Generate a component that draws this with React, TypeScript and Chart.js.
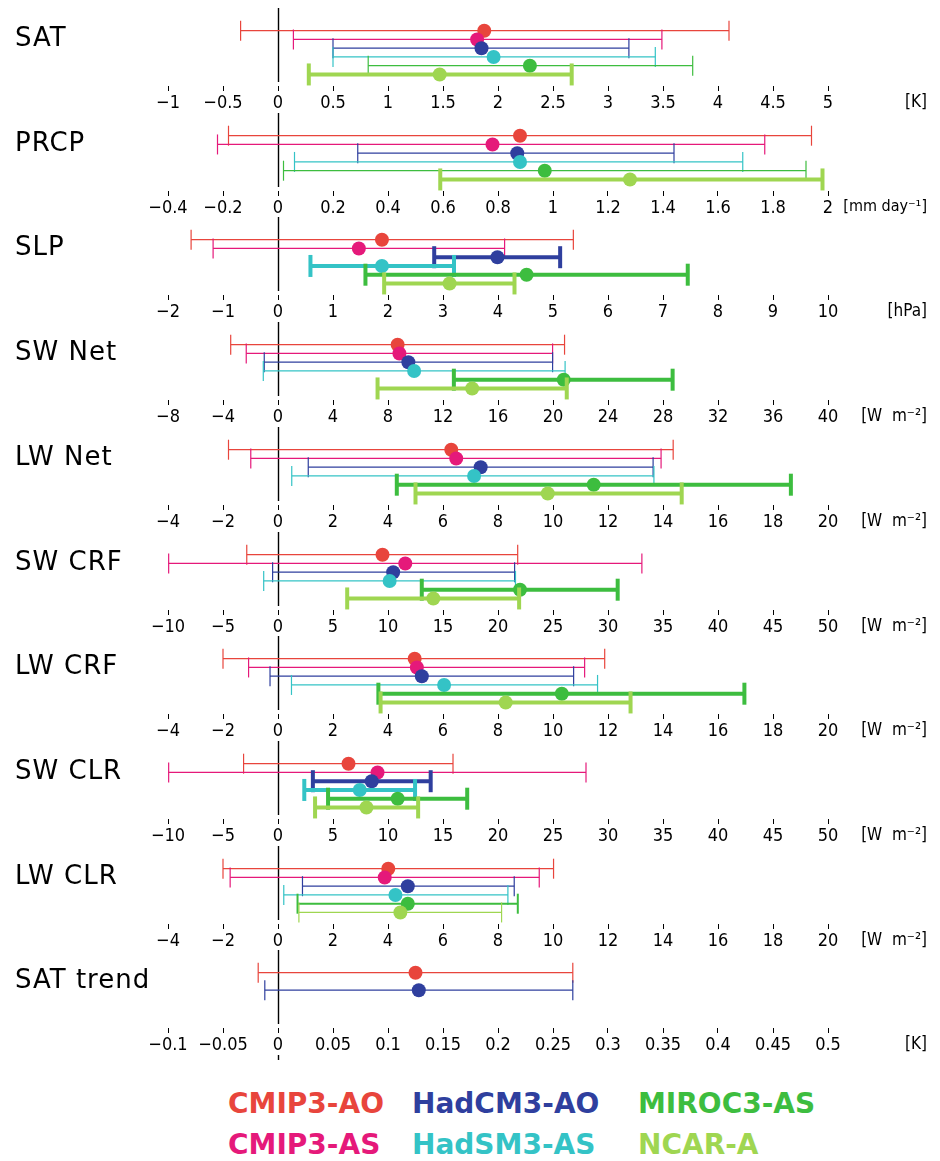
import React, { useEffect, useRef } from 'react';
import { Chart, registerables } from 'chart.js';

Chart.register(...registerables);

// ---------- data ----------
const SERIES = ['CMIP3-AO', 'CMIP3-AS', 'HadCM3-AO', 'HadSM3-AS', 'MIROC3-AS', 'NCAR-A'];
const COLORS = ['#E8453C', '#E5197A', '#2F3F9E', '#34C3C6', '#3DBD3F', '#9FD651'];

const PANELS = ['SAT', 'PRCP', 'SLP', 'SW Net', 'LW Net', 'SW CRF', 'LW CRF', 'SW CLR', 'LW CLR', 'SAT trend'];
const UNITS = ['[K]', '[mm day\u207B\u00B9]', '[hPa]', '[W  m\u207B\u00B2]', '[W  m\u207B\u00B2]', '[W  m\u207B\u00B2]', '[W  m\u207B\u00B2]', '[W  m\u207B\u00B2]', '[W  m\u207B\u00B2]', '[K]'];
const AXIS_MIN = [-1, -0.4, -2, -8, -4, -10, -4, -10, -4, -0.1];
const AXIS_MAX = [5, 2, 10, 40, 20, 50, 20, 50, 20, 0.5];
const AXIS_STEP = [0.5, 0.2, 1, 4, 2, 5, 2, 5, 2, 0.05];

// [low, mean, high] for each series (null = not shown)
const SAT = [[-0.34, 1.875, 4.1], [0.14, 1.81, 3.49], [0.5, 1.85, 3.19], [0.5, 1.96, 3.43], [0.82, 2.29, 3.77], [0.28, 1.47, 2.67]];
const PRCP = [[-0.18, 0.88, 1.94], [-0.22, 0.78, 1.77], [0.29, 0.87, 1.44], [0.06, 0.88, 1.69], [0.02, 0.97, 1.92], [0.59, 1.28, 1.98]];
const SLP = [[-1.58, 1.89, 5.37], [-1.18, 1.47, 4.12], [2.84, 3.99, 5.13], [0.59, 1.89, 3.2], [1.59, 4.52, 7.45], [1.93, 3.12, 4.3]];
const SW_NET = [[-3.44, 8.7, 20.84], [-2.31, 8.83, 19.97], [-1.0, 9.48, 19.97], [-1.07, 9.9, 20.88], [12.79, 20.78, 28.7], [7.24, 14.12, 21.0]];
const LW_NET = [[-1.8, 6.3, 14.37], [-0.99, 6.48, 13.93], [1.1, 7.37, 13.64], [0.5, 7.13, 13.67], [4.32, 11.48, 18.65], [5.0, 9.81, 14.68]];
const SW_CRF = [[-2.84, 9.5, 21.79], [-9.94, 11.57, 33.08], [-0.49, 10.47, 21.51], [-1.3, 10.15, 21.59], [13.07, 22.0, 30.88], [6.29, 14.12, 21.92]];
const LW_CRF = [[-2.0, 4.97, 11.88], [-1.07, 5.05, 11.15], [-0.29, 5.23, 10.75], [0.49, 6.04, 11.62], [3.65, 10.32, 16.96], [3.73, 8.28, 12.82]];
const SW_CLR = [[-3.13, 6.41, 15.91], [-9.94, 9.05, 28.0], [3.17, 8.52, 13.88], [2.39, 7.43, 12.46], [4.55, 10.88, 17.2], [3.37, 8.04, 12.74]];
const LW_CLR = [[-2.0, 4.01, 10.02], [-1.74, 3.88, 9.5], [0.89, 4.72, 8.59], [0.21, 4.27, 8.36], [0.71, 4.72, 8.72], [0.76, 4.45, 8.13]];
const SAT_TREND = [[-0.018, 0.125, 0.268], null, [-0.012, 0.128, 0.268], null, null, null];
const VALUES = [SAT, PRCP, SLP, SW_NET, LW_NET, SW_CRF, LW_CRF, SW_CLR, LW_CLR, SAT_TREND];

// emphasis of each range: 0 thin, 1 medium, 2 bold
const EMPHASIS = [
  [0, 0, 0, 0, 0, 2],
  [0, 0, 0, 0, 0, 2],
  [0, 0, 2, 2, 2, 2],
  [0, 0, 0, 0, 2, 2],
  [0, 0, 0, 0, 2, 2],
  [0, 0, 0, 0, 2, 2],
  [0, 0, 0, 0, 2, 2],
  [0, 0, 2, 2, 2, 2],
  [0, 0, 0, 0, 1, 0],
  [0, 0, 0, 0, 0, 0],
];

// ---------- layout ----------
const PITCH = 104.7;
const CANVAS_H = 105;
const AREA_H = 78;
const TICK_FONT = "'Liberation Sans Narrow', 'DejaVu Sans Condensed', 'Arial Narrow', sans-serif";
const TITLE_FONT = "'DejaVu Sans', sans-serif";

function fmt(v: number): string {
  const n = Math.round(v * 10000) / 10000;
  if (n === 0) return '0';
  return n < 0 ? '\u2212' + String(-n) : String(n);
}

function Panel({ index }: { index: number }) {
  const ref = useRef<HTMLCanvasElement>(null);
  const last = index === PANELS.length - 1;
  const h = last ? CANVAS_H + 8 : CANVAS_H;
  useEffect(() => {
    if (!ref.current) return;
    const rows = VALUES[index];
    const emph = EMPHASIS[index];
    const datasets: any[] = [];
    for (let s = rows.length - 1; s >= 0; s--) {
      const r = rows[s];
      if (!r) continue;
      const w = [1.2, 2, 4][emph[s]];
      const cap = emph[s] === 2 ? 11 : 10;
      datasets.push({
        label: SERIES[s],
        data: [{ x: r[1], y: s + 1 }],
        showLine: false,
        pointRadius: 7,
        pointHoverRadius: 7,
        pointBackgroundColor: COLORS[s],
        pointBorderWidth: 0,
        clip: false,
      });
      datasets.push({
        label: SERIES[s] + ' range',
        data: [{ x: r[0], y: s + 1 }, { x: r[2], y: s + 1 }],
        showLine: true,
        borderColor: COLORS[s],
        borderWidth: w,
        pointStyle: 'line',
        pointRotation: 90,
        pointRadius: cap,
        pointHoverRadius: cap,
        pointBorderColor: COLORS[s],
        pointBorderWidth: w,
        fill: false,
        clip: false,
      });
    }
    const zeroLine = {
      id: 'zeroLine',
      beforeDatasetsDraw(chart: any) {
        const { ctx, chartArea, scales } = chart;
        const px = Math.round(scales.x.getPixelForValue(0)) + 0.5;
        ctx.save();
        ctx.strokeStyle = '#000';
        ctx.lineWidth = 1.4;
        ctx.beginPath();
        ctx.moveTo(px, chartArea.top);
        ctx.lineTo(px, chartArea.bottom - 4);
        if (last) {
          ctx.moveTo(px, chartArea.bottom + 27);
          ctx.lineTo(px, chartArea.bottom + 32);
        }
        ctx.stroke();
        ctx.restore();
      },
    };
    const chart = new Chart(ref.current, {
      type: 'scatter',
      data: { datasets },
      options: {
        animation: false,
        responsive: false,
        events: [],
        layout: { autoPadding: false, padding: { left: 168, right: 112, top: 0, bottom: 0 } },
        plugins: { legend: { display: false }, tooltip: { enabled: false } },
        scales: {
          x: {
            type: 'linear',
            min: AXIS_MIN[index],
            max: AXIS_MAX[index],
            afterFit: (sc: any) => {
              sc.height = h - AREA_H;
            },
            border: { display: false },
            grid: {
              display: true,
              drawOnChartArea: false,
              drawTicks: true,
              tickLength: 5,
              color: '#000',
              tickColor: '#000',
              lineWidth: 1,
              tickWidth: 1,
            },
            ticks: {
              stepSize: AXIS_STEP[index],
              autoSkip: false,
              maxRotation: 0,
              padding: 3,
              color: '#000',
              font: { family: TICK_FONT, size: 18, lineHeight: 1 },
              callback: (v: any) => fmt(Number(v)),
            },
          },
          y: { type: 'linear', display: false, reverse: true, min: -1.594, max: 7.32 },
        },
      },
      plugins: [zeroLine],
    } as any);
    return () => chart.destroy();
  }, [index]);
  return (
    <canvas
      ref={ref}
      width={940}
      height={h}
      style={{ position: 'absolute', left: 0, top: Math.round(8 + index * PITCH), width: 940, height: h }}
    />
  );
}

export default function App() {
  useEffect(() => {
    document.body.style.margin = '0';
  }, []);
  return (
    <div style={{ position: 'absolute', left: 0, top: 0, width: 940, height: 1161, background: '#fff', overflow: 'hidden' }}>
      {PANELS.map((name, i) => (
        <Panel key={name} index={i} />
      ))}
      {PANELS.map((name, i) => (
        <div
          key={'t' + name}
          style={{
            position: 'absolute',
            left: 15,
            top: Math.round(i * PITCH + 37 - 16),
            height: 32,
            lineHeight: '32px',
            fontFamily: TITLE_FONT,
            fontSize: 26,
            letterSpacing: 1,
            whiteSpace: 'pre',
            color: '#000',
          }}
        >
          {name}
        </div>
      ))}
      {UNITS.map((u, i) => (
        <div
          key={'u' + i}
          style={{
            position: 'absolute',
            right: 940 - 927,
            top: Math.round(i * PITCH + 101 - 11),
            height: 22,
            lineHeight: '22px',
            fontFamily: TICK_FONT,
            fontSize: i === 1 ? 16 : 17,
            whiteSpace: 'pre',
            color: '#000',
          }}
        >
          {u}
        </div>
      ))}
      {SERIES.map((name, s) => (
        <div
          key={'l' + name}
          style={{
            position: 'absolute',
            left: [228, 412, 638][Math.floor(s / 2)],
            top: (s % 2 === 0 ? 1104 : 1145) - 17,
            height: 34,
            lineHeight: '34px',
            fontFamily: TITLE_FONT,
            fontWeight: 'bold',
            fontSize: 28,
            whiteSpace: 'pre',
            color: COLORS[s],
          }}
        >
          {name}
        </div>
      ))}
    </div>
  );
}
